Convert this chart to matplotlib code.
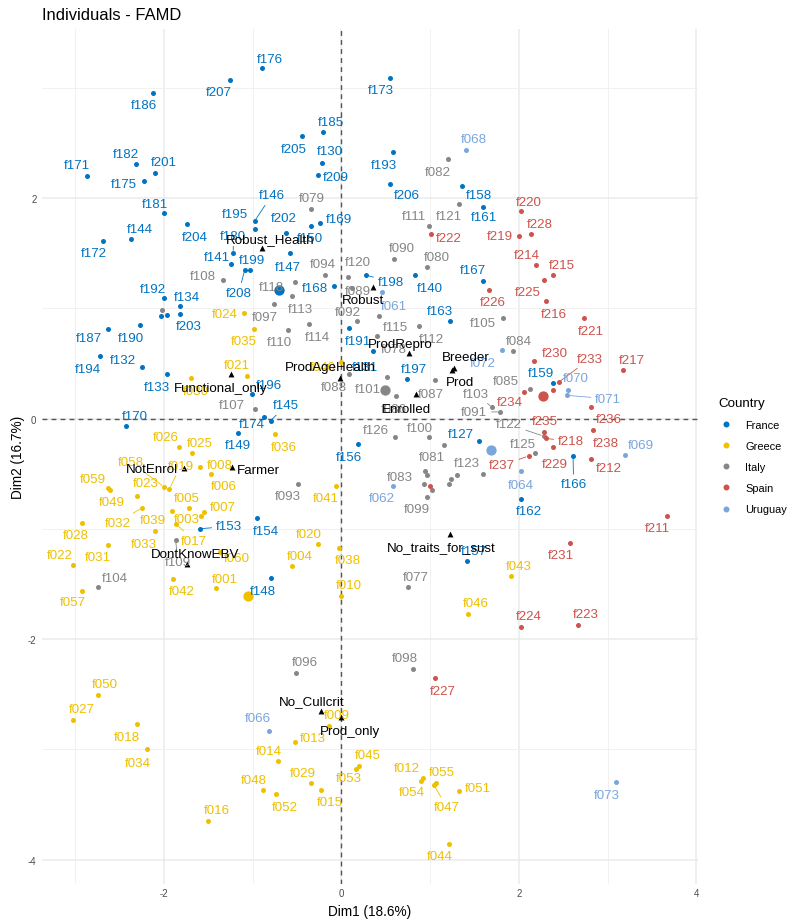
import matplotlib
matplotlib.use("Agg")
import matplotlib.pyplot as plt
from matplotlib.lines import Line2D
import numpy as np

plt.rcParams['font.family'] = ['Liberation Sans', 'DejaVu Sans']
plt.rcParams['axes.unicode_minus'] = False

# ---------------- data ----------------
france_names = ["f176","f207","f186","f173","f185","f205","f130","f209","f193","f206",
                "f158","f161","f171","f182","f201","f175","f181","f204","f144","f172",
                "f146","f195","f180","f141","f208","f199","f202","f150","f169","f147",
                "f168","f198","f140","f167","f163","f192","f134","f203","","",
                "f187","f190","f194","f132","f133","f196","f170","f174","f145","f149",
                "f191","f131","f197","f127","f156","f153","f154","f148","f157","f159",
                "f166","f162"]
france_x = [-0.90,-1.26,-2.12,0.55,-0.21,-0.44,-0.22,-0.27,0.58,0.55,
            1.36,1.59,-2.87,-2.32,-2.10,-2.23,-2.00,-1.74,-2.37,-2.69,
            -0.98,-0.98,-1.22,-1.24,-1.09,-1.03,-0.62,-0.34,-0.24,-0.58,
            -0.08,0.28,0.83,1.59,1.22,-2.00,-1.82,-1.82,-2.03,-1.97,
            -2.63,-2.27,-2.72,-2.25,-1.97,-1.01,-2.43,-0.87,-0.80,-1.17,
            0.09,0.35,0.74,1.55,0.19,-1.60,-0.95,-0.79,1.42,2.39,
            2.61,2.02]
france_y = [3.18,3.07,2.95,3.09,2.60,2.56,2.32,2.21,2.42,2.13,
            2.11,1.92,2.20,2.31,2.23,2.15,1.86,1.76,1.63,1.61,
            1.79,1.72,1.50,1.40,1.35,1.35,1.68,1.75,1.77,1.50,
            1.20,1.30,1.30,1.25,0.88,1.09,1.02,0.95,0.93,0.94,
            0.81,0.85,0.57,0.47,0.40,0.22,-0.07,0.01,-0.02,-0.13,
            0.82,0.61,0.36,-0.20,-0.23,-1.00,-0.90,-1.45,-1.29,0.32,
            -0.34,-0.73]

greece_names = ["f024","f035","f021","f030","f040","f036","f026","f025","f019","f008",
                "f006","f058","f023","f059","f049","f005","f032","f039","f003","f007",
                "f017","f028","f033","f031","f022","f057","f060","f042","f001","f041",
                "f020","f038","f004","f010","f043","f046","f050","f027","f018","f034",
                "f016","f009","f013","f014","f045","f053","f029","f048","f052","f015",
                "f012","f054","f055","f047","f051","f044"]
greece_x = [-1.10,-0.99,-1.07,-1.70,0.00,-0.75,-1.83,-1.69,-1.94,-1.60,
            -1.47,-2.00,-2.31,-2.63,-2.61,-1.72,-2.25,-1.91,-1.58,-1.55,
            -1.86,-2.92,-2.10,-2.63,-3.03,-2.92,-1.37,-1.90,-1.41,-0.06,
            -0.27,-0.03,-0.56,0.00,1.91,1.43,-2.75,-3.03,-2.30,-2.19,
            -1.50,-0.14,-0.52,-0.72,0.20,0.16,-0.34,-0.88,-0.74,-0.23,
            0.92,0.90,1.07,1.04,1.33,1.21]
greece_y = [0.96,0.81,0.39,0.37,0.51,-0.14,-0.26,-0.31,-0.64,-0.44,
            -0.50,-0.62,-0.70,-0.63,-0.65,-0.81,-0.81,-0.84,-0.88,-0.85,
            -0.96,-0.95,-1.02,-1.15,-1.33,-1.56,-1.21,-1.46,-1.54,-0.61,
            -1.14,-1.17,-1.34,-1.61,-1.43,-1.77,-2.51,-2.73,-2.77,-3.00,
            -3.65,-2.79,-2.93,-3.11,-3.15,-3.18,-3.31,-3.37,-3.41,-3.37,
            -3.26,-3.29,-3.31,-3.32,-3.38,-3.86]

italy_names = ["f082","f121","f111","f079","f090","f080","f120","f094","f089","f118",
               "f108","f113","f097","f114","f110","","f092","f115","f112","f078",
               "f105","f084","f088","f101","f087","f086","f085","f103","f091","f107",
               "f126","f100","","f081","","f123","","","f083","",
               "f099","","f122","f125","f093","f109","f104","f077","f096","f098"]
italy_x = [1.20,1.33,0.99,-0.34,0.59,0.96,0.07,-0.19,0.12,-0.52,
           -1.34,-0.56,-0.76,-0.37,-0.60,-2.02,0.18,0.42,0.87,0.40,
           1.82,1.93,0.08,0.51,1.05,0.62,2.12,1.70,1.79,-0.97,
           0.60,0.99,1.16,0.94,0.96,1.30,1.23,1.21,0.93,1.02,
           0.96,1.60,2.28,2.18,-0.49,-1.87,-2.75,0.75,-0.51,0.81]
italy_y = [2.35,1.95,1.75,1.90,1.45,1.37,1.28,1.30,1.18,1.24,
           1.26,1.11,1.04,0.86,0.80,0.98,0.88,0.93,0.84,0.75,
           0.91,0.61,0.40,0.38,0.35,0.20,0.27,0.10,0.06,0.09,
           -0.17,-0.17,-0.24,-0.48,-0.51,-0.51,-0.55,-0.59,-0.59,-0.65,
           -0.71,-0.50,-0.16,-0.31,-0.59,-1.10,-1.53,-1.53,-2.31,-2.27]

spain_names = ["f220","f228","f219","f222","f214","f215","f225","f226","f216","f221",
               "f230","f217","f233","","f234","f236","f235","f218","f238","f229",
               "f237","f212","","f211","f231","f224","f223","f227"]
spain_x = [2.02,2.14,2.00,1.01,2.19,2.39,2.28,1.66,2.31,2.73,
           2.17,3.17,2.45,2.39,2.06,2.81,2.28,2.30,2.84,2.39,
           2.11,2.81,1.00,3.67,2.58,2.02,2.67,1.05]
spain_y = [1.88,1.67,1.66,1.67,1.39,1.30,1.26,1.17,1.07,0.91,
           0.52,0.44,0.33,0.26,0.24,0.10,-0.12,-0.18,-0.10,-0.26,
           -0.34,-0.37,-0.61,-0.88,-1.13,-1.89,-1.87,-2.35]

uruguay_names = ["f068","f061","f072","f070","f071","f069","f064","f062","f066","f073"]
uruguay_x = [1.40,0.46,1.81,2.55,2.54,3.20,2.02,0.58,-0.82,3.09]
uruguay_y = [2.44,1.15,0.62,0.26,0.21,-0.33,-0.48,-0.61,-2.83,-3.30]

quali_names = ["Robust_Health","Robust","Functional_only","ProdAgeHealth","ProdRepro",
               "Breeder","Prod","Enrolled","NotEnrol","Farmer","DontKnowEBV",
               "No_traits_for_sust","No_Cullcrit","Prod_only"]
quali_x = [-0.90,0.36,-1.25,-0.02,0.76,1.27,1.25,0.84,-1.78,-1.23,-1.74,1.22,-0.23,-0.01]
quali_y = [1.55,1.19,0.40,0.37,0.59,0.46,0.44,0.22,-0.45,-0.44,-1.32,-1.05,-2.65,-2.71]

countries = ["France", "Greece", "Italy", "Spain", "Uruguay"]
colors = ["#0073C2", "#EFC000", "#868686", "#CD534C", "#7AA6DC"]
groups = [(france_names, france_x, france_y), (greece_names, greece_x, greece_y),
          (italy_names, italy_x, italy_y), (spain_names, spain_x, spain_y),
          (uruguay_names, uruguay_x, uruguay_y)]

# ------------- label layout (pixel offsets, repel-like) -------------
OFFSETS = {
 'f176': (8.5, 9), 'f207': (-11, -12), 'f186': (-9, -12), 'f173': (-9.7, -12.4), 'f185': (7.7, 10),
 'f205': (-8.7, -12.3), 'f130': (7.7, 11.3), 'f209': (18.7, -2), 'f193': (-9.4, -13), 'f206': (17, -11.7),
 'f158': (17, -9), 'f161': (1.7, -9.7), 'f171': (-10, 10.7), 'f182': (-10, 10), 'f201': (8.3, 10.6),
 'f175': (-19.3, -2.7), 'f181': (-9, 9.7), 'f204': (8, -12.6), 'f144': (8.6, 10), 'f172': (-9, -12),
 'f146': (17, 25.7), 'f195': (-20, 14.6), 'f180': (0, 17), 'f141': (-15, 7.6), 'f208': (-6, -23),
 'f199': (2.3, 9.3), 'f202': (-2.7, 15), 'f150': (-1, -12.7), 'f169': (18.4, 4.7), 'f147': (-2.3, -13.4),
 'f168': (-19, -1.3), 'f198': (24.3, -6.6), 'f140': (14.6, -12.6), 'f167': (-9.6, 10.3), 'f163': (-9.3, 10.4),
 'f192': (-11.6, 9.7), 'f134': (7, 8.7), 'f203': (8.7, -12.4), 'f187': (-19.3, -9), 'f190': (-9, -13),
 'f194': (-12.6, -13), 'f132': (-19, 7), 'f133': (-9.7, -13), 'f196': (17.6, 9.7), 'f170': (8.7, 10),
 'f174': (-12, -7), 'f145': (15.6, 15.3), 'f149': (0, -12), 'f191': (9, -12.4), 'f131': (-7.3, -15.6),
 'f197': (7.3, 10), 'f127': (-18.6, 6.6), 'f156': (-9.6, -13), 'f153': (29.4, 2.4), 'f154': (8.8, -13),
 'f148': (-8.6, -12.7), 'f157': (6.7, 9.3), 'f159': (-12.7, 10.7), 'f166': (0.7, -28.3), 'f162': (8, -12),
 'f024': (-19.4, -1.5), 'f035': (-9.3, -12), 'f021': (-10, 10.3), 'f030': (5, -13), 'f040': (-18.4, -5),
 'f036': (8.7, -13.4), 'f026': (-13.7, 10), 'f025': (8.3, 10), 'f019': (11.3, 23.3), 'f008': (20.4, 2.4),
 'f006': (12.4, -12.4), 'f058': (-33.6, 25), 'f023': (9.3, 13), 'f059': (-15, 9), 'f049': (2.4, -12.2),
 'f005': (-1.6, 10.3), 'f032': (-24.3, -15), 'f039': (-19, -9), 'f003': (-14, -3), 'f007': (18.7, 5),
 'f017': (17.7, -16.3), 'f028': (-7, -12), 'f033': (-11.3, -12.7), 'f031': (-10.7, -11.6), 'f022': (-13, 9.7),
 'f057': (-9.7, -11.6), 'f060': (17.4, -6.3), 'f042': (8.7, -12), 'f001': (8, 9), 'f041': (-10, -12),
 'f020': (-9, 10), 'f038': (8.7, -12.7), 'f004': (7.6, 10), 'f010': (7.6, 10.7), 'f043': (7.7, 10),
 'f046': (7.7, 11), 'f050': (7.6, 11), 'f027': (8.7, 11), 'f018': (-10.3, -13), 'f034': (-9.6, -13.6),
 'f016': (8.3, 10.7), 'f009': (7.6, 10.7), 'f013': (17.7, 3.3), 'f014': (-9, 10), 'f045': (8.4, 11.3),
 'f053': (-6.3, -9.3), 'f029': (-8.7, 10), 'f048': (-9.6, 10.5), 'f052': (8.7, -13), 'f015': (8.4, -12),
 'f012': (-16.7, 10), 'f054': (-9, -10.3), 'f055': (6, 11.7), 'f047': (13, -22.6), 'f051': (18.7, 3),
 'f044': (-9.3, -11.7),
 'f082': (-9.6, -13), 'f121': (-10.6, -12.4), 'f111': (-15.7, 10), 'f079': (1, 11), 'f090': (7.6, 11),
 'f080': (10.3, 10), 'f120': (9.7, 15.3), 'f094': (-2, 10.7), 'f089': (6, -3), 'f118': (-23.7, -5.3),
 'f108': (-20, 3.3), 'f113': (9, -12.6), 'f097': (-8.7, -13), 'f114': (9, -13), 'f110': (-9.3, -11.7),
 'f092': (-10, 9.4), 'f115': (16.7, -11), 'f112': (12.7, -12.7), 'f078': (17.3, -13.3), 'f105': (-20, -5),
 'f084': (6, 10.6), 'f088': (-14.6, -13), 'f101': (-18.3, -12), 'f087': (-4, -14.3), 'f086': (-3, -12.3),
 'f085': (-23.6, 7.3), 'f103': (-16.3, 13.7), 'f091': (-26, 0), 'f107': (-23.7, 3.7), 'f126': (-19, 7),
 'f100': (-9.3, 9.7), 'f081': (7.3, 14.6), 'f123': (10, 12), 'f083': (-23.7, 7), 'f099': (-9.7, -12),
 'f122': (-35, 11.7), 'f125': (-11.7, 9), 'f093': (-9.7, -12.7), 'f109': (2.3, -22), 'f104': (17.3, 9),
 'f077': (8, 10.4), 'f096': (9, 11.3), 'f098': (-8.4, 11),
 'f220': (7.7, 9.4), 'f228': (9, 10), 'f219': (-19, 0), 'f222': (18, -3.3), 'f214': (-9, 10.3),
 'f215': (8.7, 10), 'f225': (-16.3, -12), 'f226': (4, -12), 'f216': (7.4, -13.3), 'f221': (7.4, -13),
 'f230': (20.4, 8.4), 'f217': (8.7, 10), 'f233': (31.3, 23.4), 'f234': (-14.7, -10), 'f236': (18, -11.3),
 'f235': (1.4, 10.4), 'f218': (25.3, -3), 'f238': (12.4, -13.3), 'f229': (1, -16.7), 'f237': (-26.7, -9.3),
 'f212': (18, -9), 'f211': (-9.6, -12.3), 'f231': (-9.3, -12.3), 'f224': (7.7, 11), 'f223': (7.6, 10.3),
 'f227': (7.7, -13.3),
 'f068': (8.6, 11), 'f061': (12, -14), 'f072': (-19.7, -12.7), 'f070': (8, 11.7), 'f071': (41, -3.3),
 'f069': (15.3, 10), 'f064': (0, -14), 'f062': (-10.7, -12), 'f066': (-10.5, 12.3), 'f073': (-8.3, -13),
 'Robust_Health': (8.3, 9), 'Robust': (-10, -12.7), 'Functional_only': (-10, -13.3),
 'ProdAgeHealth': (-9.3, 10.4), 'ProdRepro': (-8.3, 9.7), 'Breeder': (12, 11), 'Prod': (8, -12),
 'Enrolled': (-9.7, -14.3), 'NotEnrol': (-31.3, -0.6), 'Farmer': (26, -3.3), 'DontKnowEBV': (8.3, 10.4),
 'No_traits_for_sust': (-8.3, -12.7), 'No_Cullcrit': (-9, 10), 'Prod_only': (9, -13.4),
}
SEGMENTS = {"f146", "f180", "f208", "f198", "f145", "f153", "f166", "f019", "f058", "f032",
            "f017", "f047", "f103", "f091", "f122", "f109", "f233", "f218", "f237", "f071"}

LABEL_SIZE = 9.6

# ---------------- figure ----------------
fig = plt.figure(figsize=(7.9, 9.2), dpi=100)
ax = fig.add_axes([0.05316, 0.03804, 0.83038, 0.92935])
ax.set_xlim(-3.376, 4.019)
ax.set_ylim(-4.222, 3.533)

ax.set_xticks([-2, 0, 2, 4])
ax.set_xticklabels(["-2", "0", "2", "4"])
ax.set_yticks([-4, -2, 0, 2])
ax.set_yticklabels(["-4", "-2", "0", "2"])
ax.set_xticks([-3, -1, 1, 3], minor=True)
ax.set_yticks([-3, -1, 1, 3], minor=True)
ax.grid(which='major', color='#EBEBEB', lw=1.1)
ax.grid(which='minor', color='#EFEFEF', lw=0.6)
ax.set_axisbelow(True)
for s in ax.spines.values():
    s.set_visible(False)
ax.tick_params(which='both', length=0, labelsize=7, labelcolor='#4D4D4D')
ax.tick_params(axis='x', pad=3)
ax.tick_params(axis='y', pad=4)

ax.axhline(0, color='#555555', lw=1.0, ls=(0, (3.5, 3)), zorder=1.5)
ax.axvline(0, color='#555555', lw=1.0, ls=(0, (3.5, 3)), zorder=1.5)

# points
for (names, xs, ys), col in zip(groups, colors):
    ax.scatter(xs, ys, s=13, color=col, linewidths=0, zorder=3)
# group centroids (mean of each group)
for (names, xs, ys), col in zip(groups, colors):
    ax.scatter([np.mean(xs)], [np.mean(ys)], s=55, color=col, linewidths=0, zorder=3.5)
# supplementary qualitative categories
ax.scatter(quali_x, quali_y, marker='^', s=18, color='black', linewidths=0, zorder=4)


def put_label(name, x, y, col, z):
    dx, dy = OFFSETS.get(name, (0, 12))
    kw = {}
    if name in SEGMENTS:
        kw['arrowprops'] = dict(arrowstyle='-', color=col, lw=0.6, shrinkA=1, shrinkB=2)
    ax.annotate(name, xy=(x, y), xytext=(dx, dy), textcoords='offset pixels',
                ha='center', va='center', fontsize=LABEL_SIZE, color=col, zorder=z, **kw)


for (names, xs, ys), col in zip(groups, colors):
    for n, x, y in zip(names, xs, ys):
        if n:
            put_label(n, x, y, col, 5)
for n, x, y in zip(quali_names, quali_x, quali_y):
    put_label(n, x, y, 'black', 6)

ax.set_xlabel("Dim1 (18.6%)", fontsize=9.8, color='black', labelpad=4)
ax.set_ylabel("Dim2 (16.7%)", fontsize=9.8, color='black', labelpad=2)

fig.text(42 / 790, 1 - 15 / 920, "Individuals - FAMD", ha='left', va='center', fontsize=11.9)

handles = [Line2D([], [], marker='o', ls='', color=c, markersize=4.3, markeredgewidth=0)
           for c in colors]
leg = fig.legend(handles, countries, title="Country", loc='upper left',
                 bbox_to_anchor=(0.9033, 0.5727), borderaxespad=0, frameon=False,
                 fontsize=7.9, title_fontsize=9.6, labelspacing=1.02,
                 handlelength=1.5, handletextpad=1.0, alignment='left')

fig.savefig("out.png", dpi=100)
